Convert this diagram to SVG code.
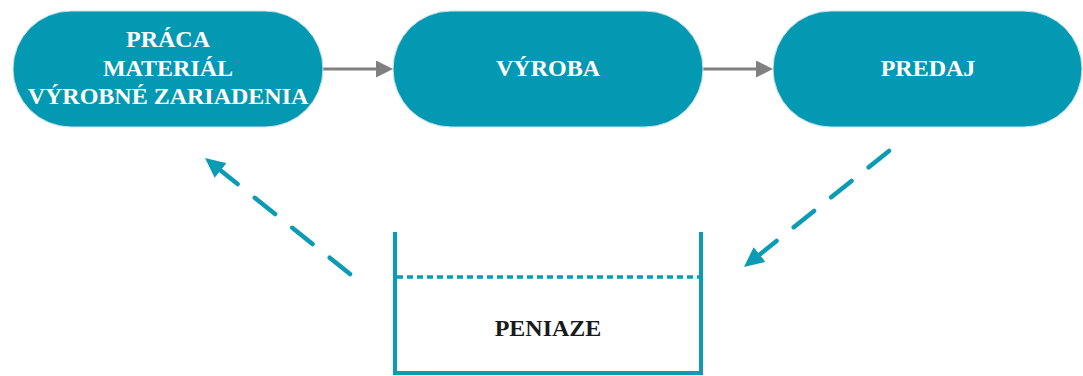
<svg xmlns="http://www.w3.org/2000/svg" width="1083" height="376" viewBox="0 0 1083 376">
  <style>
    .node { fill: #0499b3; stroke: #cfe3e8; stroke-width: 1; }
    .lbl { font-family: "Liberation Serif", "Times New Roman", serif; font-weight: bold; font-size: 24px; fill: #ffffff; text-anchor: middle; }
    .lbl-dark { fill: #1a1a1a; }
    .flow { stroke: #808080; stroke-width: 3; fill: none; }
    .money { stroke: #0a9bb5; stroke-width: 4.5; fill: none; stroke-linecap: round; stroke-dasharray: 26 22; }
    .tank { stroke: #0a9bb5; stroke-width: 4; fill: none; }
    .level { stroke: #0a9bb5; stroke-width: 3.5; fill: none; stroke-dasharray: 6 4; }
  </style>
  <defs>
    <marker id="grayHead" markerUnits="userSpaceOnUse" viewBox="0 0 17 17" refX="0" refY="8.5" markerWidth="17" markerHeight="17" orient="auto">
      <path d="M0,0 L17,8.5 L0,17 z" fill="#808080"/>
    </marker>
    <marker id="tealHead" markerUnits="userSpaceOnUse" viewBox="-10 -9.5 20 19" refX="0" refY="0" markerWidth="20" markerHeight="19" orient="auto">
      <path d="M-10,-9.5 L10,0 L-10,9.5 z" fill="#0a9bb5"/>
    </marker>
  </defs>

  <g id="connectors">
    <line class="flow" x1="323" y1="69" x2="376" y2="69" marker-end="url(#grayHead)"/>
    <line class="flow" x1="703" y1="69" x2="756" y2="69" marker-end="url(#grayHead)"/>
    <path class="money" d="M350,274 L212.8,164.2" marker-end="url(#tealHead)"/>
    <path class="money" d="M889,151 L751.8,260.8" marker-end="url(#tealHead)"/>
  </g>

  <g id="node-vstupy">
    <rect class="node" x="13" y="11" width="310" height="116" rx="58" ry="58"/>
    <text class="lbl" x="168" y="47">PRÁCA</text>
    <text class="lbl" x="168" y="76">MATERIÁL</text>
    <text class="lbl" x="168" y="104">VÝROBNÉ ZARIADENIA</text>
  </g>

  <g id="node-vyroba">
    <rect class="node" x="393" y="11" width="310" height="116" rx="58" ry="58"/>
    <text class="lbl" x="548" y="76">VÝROBA</text>
  </g>

  <g id="node-predaj">
    <rect class="node" x="773" y="11" width="309" height="116" rx="58" ry="58"/>
    <text class="lbl" x="928" y="76">PREDAJ</text>
  </g>

  <g id="node-peniaze">
    <path class="tank" d="M395,232 L395,373 L701,373 L701,232"/>
    <line class="level" x1="397" y1="277" x2="699" y2="277"/>
    <text class="lbl lbl-dark" x="548" y="336">PENIAZE</text>
  </g>
</svg>
